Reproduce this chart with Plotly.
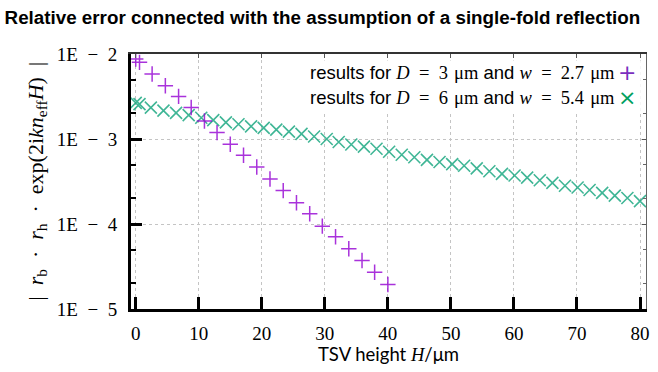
import plotly.graph_objects as go

# ---- data ----
h_d3 = [0, 0.6, 2.6, 4.7, 6.8, 8.8, 10.9, 12.9, 15.0, 17.1, 19.2, 21.3, 23.4, 25.5,
        27.6, 29.6, 31.7, 33.8, 35.9, 37.9, 40.0]
err_d3 = [8.73e-3, 7.98e-3, 5.81e-3, 4.23e-3, 3.17e-3, 2.35e-3, 1.63e-3, 1.19e-3,
          8.69e-4, 6.44e-4, 4.69e-4, 3.39e-4, 2.47e-4, 1.78e-4, 1.32e-4, 9.44e-5,
          7.08e-5, 5.12e-5, 3.72e-5, 2.71e-5, 1.94e-5]

h_d6 = [0, 0.6, 2.4, 4.4, 6.4, 8.4, 10.4, 12.3, 14.3, 16.3, 18.3, 20.3, 22.3, 24.3,
        26.3, 28.3, 30.3, 32.2, 34.2, 36.2, 38.2, 40.2, 42.2, 44.2, 46.2, 48.2, 50.2,
        52.1, 54.1, 56.1, 58.1, 60.1, 62.1, 64.1, 66.1, 68.1, 70.1, 72.0, 74.0, 76.0,
        78.0, 80.0]
err_d6 = [2.66e-3, 2.57e-3, 2.34e-3, 2.16e-3, 2.03e-3, 1.91e-3, 1.78e-3, 1.67e-3,
          1.57e-3, 1.49e-3, 1.41e-3, 1.35e-3, 1.29e-3, 1.22e-3, 1.15e-3, 1.07e-3,
          1.00e-3, 9.23e-4, 8.61e-4, 8.13e-4, 7.67e-4, 7.08e-4, 6.53e-4, 6.10e-4,
          5.69e-4, 5.37e-4, 5.07e-4, 4.84e-4, 4.52e-4, 4.17e-4, 3.89e-4, 3.72e-4,
          3.51e-4, 3.27e-4, 3.05e-4, 2.82e-4, 2.69e-4, 2.51e-4, 2.32e-4, 2.16e-4,
          2.02e-4, 1.86e-4]

x_ticks = [0, 10, 20, 30, 40, 50, 60, 70, 80]
y_ticks = [1e-5, 1e-4, 1e-3, 1e-2]
y_ticktext = ["1E\u2002\u2212\u20025", "1E\u2002\u2212\u20024",
              "1E\u2002\u2212\u20023", "1E\u2002\u2212\u20022"]
y_minor = [2e-5, 5e-5, 2e-4, 5e-4, 2e-3, 5e-3]

PURPLE = "#9400d3"
GREEN = "#009e73"
SERIF = "Liberation Serif"
SANS = "Liberation Sans"

fig = go.Figure()
fig.add_trace(go.Scatter(
    x=h_d6, y=err_d6, mode="markers", name="D6",
    marker=dict(symbol="x-thin", size=12, color=GREEN,
                line=dict(width=1.6, color=GREEN)), opacity=0.75))
fig.add_trace(go.Scatter(
    x=h_d3, y=err_d3, mode="markers", name="D3",
    marker=dict(symbol="cross-thin", size=11, color=PURPLE,
                line=dict(width=1.5, color=PURPLE)), opacity=0.8))
# empty trace to activate the mirrored (thin) frame axes
fig.add_trace(go.Scatter(x=[], y=[], xaxis="x2", yaxis="y2", showlegend=False))

grid = dict(showgrid=True, gridcolor="#c4c4c4", griddash="dot", gridwidth=1)

fig.update_layout(
    width=658, height=372,
    margin=dict(l=131, r=9, t=54, b=63),
    paper_bgcolor="white", plot_bgcolor="white",
    showlegend=False,
    title=dict(text="<b>Relative error connected with the assumption of a single-fold reflection</b>",
               x=0.007, xanchor="left", y=0.953, yanchor="middle",
               font=dict(family=SANS, size=18.8, color="black")),
    xaxis=dict(range=[-0.75, 80.95], tickvals=x_ticks, ticks="inside", ticklen=12,
               tickwidth=3, tickcolor="black", showline=True, linewidth=3,
               linecolor="black", zeroline=False, ticklabelstandoff=5,
               tickfont=dict(family=SERIF, size=19, color="black"), **grid),
    yaxis=dict(type="log", range=[-5, -2], tickvals=y_ticks, ticktext=y_ticktext,
               ticks="inside", ticklen=11, tickwidth=3, tickcolor="black",
               showline=True, linewidth=3, linecolor="black", zeroline=False,
               ticklabelstandoff=7,
               tickfont=dict(family=SERIF, size=19, color="black"),
               minor=dict(tickvals=y_minor, ticks="inside", ticklen=5, tickwidth=1.5,
                          tickcolor="black", showgrid=False),
               **grid),
    xaxis2=dict(overlaying="x", side="top", range=[-0.75, 80.95], tickvals=x_ticks,
                ticks="inside", ticklen=4, tickwidth=1, tickcolor="#555",
                showticklabels=False, showline=True, linewidth=1.5, linecolor="#333",
                showgrid=False, zeroline=False),
    yaxis2=dict(overlaying="y", side="right", type="log", range=[-5, -2],
                tickvals=y_ticks, ticks="inside", ticklen=4, tickwidth=1,
                tickcolor="#555", showticklabels=False, showline=True, linewidth=1,
                linecolor="#666", showgrid=False, zeroline=False,
                minor=dict(tickvals=y_minor, ticks="inside", ticklen=3, tickwidth=1,
                           tickcolor="#666")),
)

# legend box (white) over the gridlines
fig.add_shape(type="rect", xref="paper", yref="paper", x0=0.31, x1=0.99,
              y0=0.775, y1=0.975, fillcolor="white", line=dict(width=0), layer="above")

SP = "\u2002"
SM = "\u2004"
leg_tpl = ("results for <span style=\"font-family:%s\"><i>D</i>%s=%s%s%sμm</span> and "
           "<span style=\"font-family:%s\"><i>w</i>%s=%s%s%sμm</span>")
leg1 = leg_tpl % (SERIF, SP, SP, "3", SM, SERIF, SP, SP, "2.7", SM)
leg2 = leg_tpl % (SERIF, SP, SP, "6", SM, SERIF, SP, SP, "5.4", SM)
fig.add_annotation(text=leg1, xref="paper", yref="paper", x=0.944, y=0.929,
                   xanchor="right", yanchor="middle", showarrow=False,
                   font=dict(family=SANS, size=18.5, color="black"))
fig.add_annotation(text=leg2, xref="paper", yref="paper", x=0.944, y=0.831,
                   xanchor="right", yanchor="middle", showarrow=False,
                   font=dict(family=SANS, size=18.5, color="black"))
fig.add_annotation(text="+", xref="paper", yref="paper", x=0.963, y=0.929,
                   xanchor="center", yanchor="middle", showarrow=False,
                   font=dict(family="DejaVu Sans", size=22, color="#7b2fbe"))
fig.add_annotation(text="×", xref="paper", yref="paper", x=0.963, y=0.831,
                   xanchor="center", yanchor="middle", showarrow=False,
                   font=dict(family="DejaVu Sans", size=22, color="#00a060"))

# axis titles
ytitle = ("|\u2002<i>r</i><sub>b</sub>\u2002·\u2002<i>r</i><sub>h</sub>\u2002·\u2002"
          "exp(2i<i>kn</i><sub>eff</sub><i>H</i>)\u2002|")
fig.add_annotation(text=ytitle, xref="paper", yref="paper", x=-0.184, y=0.5,
                   xanchor="center", yanchor="middle", textangle=-90, showarrow=False,
                   font=dict(family=SERIF, size=22, color="black"))
xtitle = "TSV height <span style=\"font-family:%s\"><i>H</i></span>/μm" % SERIF
fig.add_annotation(text=xtitle, xref="paper", yref="paper", x=0.5, y=-0.176,
                   xanchor="center", yanchor="middle", showarrow=False,
                   font=dict(family="Lato", size=18.5, color="black"))

fig.write_html("out.html", config={"displayModeBar": False},
               post_script="document.body.style.margin='0';")
